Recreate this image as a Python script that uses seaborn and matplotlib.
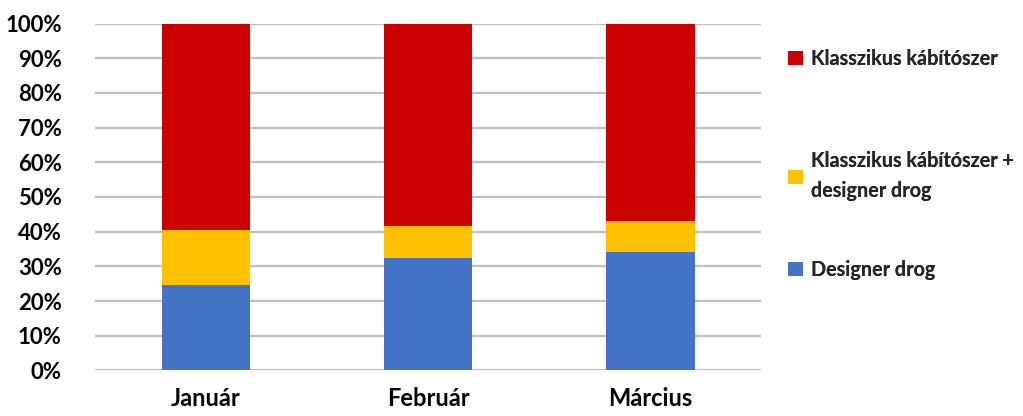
import matplotlib
matplotlib.use("Agg")
import matplotlib.pyplot as plt
import seaborn as sns
import pandas as pd
import numpy as np
from matplotlib.patches import Patch

months = ["Január", "Február", "Március"]
designer = [24.6, 32.4, 34.1]
mixed = [15.9, 9.2, 9.0]
classic = [59.5, 58.4, 56.9]
series_names = ["Designer drog", "Klasszikus kábítószer +\ndesigner drog", "Klasszikus kábítószer"]
colors = ["#4472C4", "#FFC000", "#CC0000"]
yticks = list(range(0, 101, 10))

sns.set_theme(style="white")
plt.rcParams['font.family'] = ['Lato', 'DejaVu Sans']
plt.rcParams['font.weight'] = 'bold'

fig = plt.figure(figsize=(10.23, 4.16), dpi=100)
ax = fig.add_axes([0.0929, 0.1094, 0.744 - 0.0929, 0.9435 - 0.1094])

df = pd.DataFrame({"month": months, "d": designer, "m": mixed, "c": classic})
df["cum1"] = df["d"]
df["cum2"] = df["d"] + df["m"]
df["cum3"] = df["d"] + df["m"] + df["c"]

for col, color in zip(["cum3", "cum2", "cum1"], colors[::-1]):
    sns.barplot(data=df, x="month", y=col, color=color, width=0.4, ax=ax,
                saturation=1, linewidth=0, zorder=3)

ax.set_xlim(-0.5, 2.5)
ax.set_ylim(0, 100)
ax.set_yticks(yticks)
ax.set_yticklabels([f"{t}%" for t in yticks], fontsize=16, fontweight='bold')
ax.set_xticklabels(months, fontsize=17, fontweight='bold')
ax.set_xlabel("")
ax.set_ylabel("")
ax.grid(axis='y', color='#BFBFBF', linewidth=1.6, zorder=0)
ax.set_axisbelow(True)
for s in ax.spines.values():
    s.set_visible(False)
ax.tick_params(axis='both', length=0, colors='black')
ax.tick_params(axis='y', pad=24)
ax.tick_params(axis='x', pad=12)

# legend: one entry per box, placed like the reference (top to bottom: red, yellow, blue)
centers = [270, 176, 59]  # pixel centers for designer, mixed, classic
for name, color, yc in zip(series_names, colors, centers):
    leg = fig.legend([Patch(facecolor=color, edgecolor='none')], [name],
                     loc='center left', bbox_to_anchor=(788 / 1023, 1 - yc / 416),
                     frameon=False, borderpad=0, borderaxespad=0,
                     handlelength=0.75, handleheight=0.75, handletextpad=0.4,
                     prop={'weight': 'bold', 'size': 14.2})
    for t in leg.get_texts():
        t.set_linespacing(1.6)
    fig.add_artist(leg)

fig.savefig("out.png", dpi=100)
